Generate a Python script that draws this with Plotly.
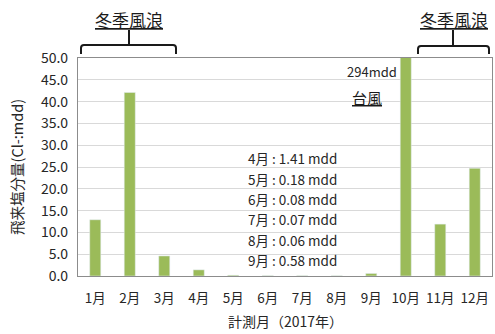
import plotly.graph_objects as go

# Monthly airborne salt (Cl-, mdd), 2017
months = ["1月", "2月", "3月", "4月", "5月", "6月", "7月", "8月", "9月", "10月", "11月", "12月"]
salt = [12.9, 42.1, 4.6, 1.41, 0.18, 0.08, 0.07, 0.06, 0.58, 294, 11.9, 24.7]
y_ticks = [0, 5, 10, 15, 20, 25, 30, 35, 40, 45, 50]
note_months = ["4月", "5月", "6月", "7月", "8月", "9月"]
note_values = [1.41, 0.18, 0.08, 0.07, 0.06, 0.58]

W, H = 495, 334
L, R, T, B = 78, 3, 58, 58
PW, PH = W - L - R, H - T - B
FONT = "Noto Sans CJK JP"
BAR = "#9bbb59"
FRAME = "#8c8c8c"


def px(x):
    return (x - L) / PW


def py(y):
    return (H - B - y) / PH


fig = go.Figure(go.Bar(x=months, y=salt, marker_color=BAR, width=0.32))

fig.update_layout(
    width=W, height=H,
    margin=dict(l=L, r=R, t=T, b=B),
    paper_bgcolor="white", plot_bgcolor="white",
    font=dict(family=FONT, size=12, color="#262626"),
    showlegend=False,
    xaxis=dict(showline=True, mirror=True, linecolor=FRAME, linewidth=1.2,
               ticks="", tickfont=dict(size=13.5), ticklabelstandoff=10),
    yaxis=dict(range=[0, 50], tickvals=y_ticks,
               ticktext=[f"{v:.1f}" for v in y_ticks],
               showline=True, mirror=True, linecolor=FRAME, linewidth=1.2,
               gridcolor="#d9d9d9", gridwidth=1, zeroline=False,
               tickfont=dict(size=14), ticklabelstandoff=6),
)


def label(text, x, y, size, xanchor="center", **kw):
    font = dict(size=size)
    font.update(kw.pop("font", {}))
    return dict(text=text, x=px(x), y=py(y), xref="paper", yref="paper",
                xanchor=xanchor, yanchor="middle", showarrow=False, font=font, **kw)


ann = []
# axis titles
ann.append(label("飛来塩分量(Cl-:mdd)", 16, 167, 14.5, textangle=-90))
ann.append(label("計測月（2017年）", 285, 321, 14))

# season labels
for cx in (129, 454):
    ann.append(label("冬季風浪", cx, 20, 17, font=dict(color="#1a1a1a", lineposition="under")))
ann.append(label("台風", 367, 97, 15, font=dict(color="#1a1a1a", lineposition="under")))
ann.append(label("294mdd", 399, 72, 13, xanchor="right"))

# small-month value notes
note_y = [158, 179, 199, 219, 240, 260]
for m, v, yy in zip(note_months, note_values, note_y):
    ann.append(label(f"{m} : {v:.2f} mdd", 339, yy, 13.5, xanchor="right"))

fig.update_layout(annotations=ann)


def bracket(x0, x1, xc, yh, yend, ytop):
    r = 3
    path = (f"M {px(x0)},{py(yend)} L {px(x0)},{py(yh + r)} "
            f"Q {px(x0)},{py(yh)} {px(x0 + r)},{py(yh)} "
            f"L {px(x1 - r)},{py(yh)} Q {px(x1)},{py(yh)} {px(x1)},{py(yh + r)} "
            f"L {px(x1)},{py(yend)} "
            f"M {px(xc)},{py(yh)} L {px(xc)},{py(ytop)}")
    return dict(type="path", path=path, xref="paper", yref="paper",
                line=dict(color="#1a1a1a", width=2))


fig.update_layout(shapes=[
    bracket(81, 176, 129, 45, 54, 30),
    bracket(418, 489, 453, 46, 54, 30),
])

fig.write_html("out.html")
